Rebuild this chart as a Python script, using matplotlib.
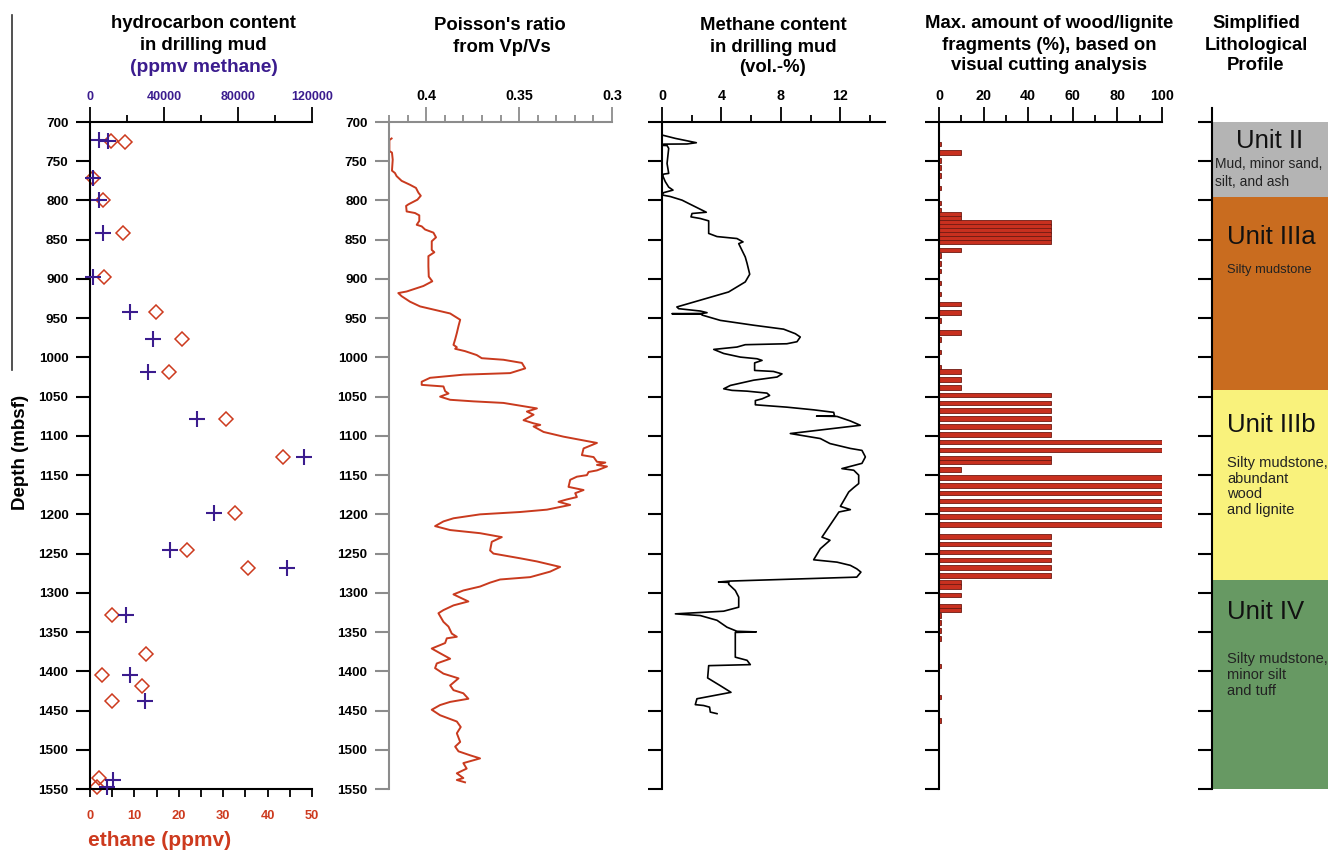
import numpy as np
import matplotlib
matplotlib.use("Agg")
import matplotlib.pyplot as plt
from matplotlib.ticker import MultipleLocator

plt.rcParams['font.family'] = ['Liberation Sans', 'DejaVu Sans']
plt.rcParams['font.weight'] = 'bold'

# ---------------- data ----------------
eth_depth = [724, 726, 772, 799, 841, 898, 942, 976, 1018, 1078, 1127, 1198, 1245, 1268,
             1328, 1378, 1405, 1419, 1438, 1536, 1547]
eth_ppmv = [4.7, 7.9, 0.75, 3.0, 7.4, 3.15, 14.9, 20.8, 17.9, 30.6, 43.5, 32.7, 21.8, 35.5,
            5.0, 12.5, 2.8, 11.8, 4.9, 2.0, 1.5]

meth_depth = [723, 724, 772, 799, 841, 898, 942, 976, 1018, 1078, 1127, 1198, 1245, 1268,
              1328, 1405, 1438, 1538, 1548]
meth_ppmv = [4900, 9700, 1800, 5000, 7200, 1800, 21600, 33900, 31200, 57600, 115700, 67200,
             43200, 106300, 19500, 21600, 29700, 12300, 9400]

pr_depth = [721, 723, 737, 739, 748, 762, 765, 769, 775, 780, 784, 790, 794, 799, 805, 807, 814,
            816, 819, 826, 831, 833, 837, 841, 847, 852, 863, 866, 871, 884, 897, 903, 909, 916,
            918, 922, 929, 935, 939, 944, 952, 960, 969, 977, 984, 987, 989, 992, 997, 1001, 1003,
            1007, 1014, 1020, 1022, 1026, 1031, 1035, 1037, 1043, 1046, 1050, 1054, 1056, 1058,
            1065, 1069, 1073, 1080, 1084, 1086, 1088, 1095, 1101, 1107, 1109, 1116, 1124.5, 1127,
            1133, 1134, 1137, 1139, 1144, 1146, 1150, 1152, 1156, 1165, 1169, 1173, 1178, 1181,
            1184, 1188, 1194, 1197, 1200, 1205, 1209, 1215, 1220, 1224, 1229, 1235, 1246, 1250,
            1256, 1260, 1267, 1273, 1280, 1283, 1287, 1292, 1297, 1302, 1311, 1316, 1322, 1326,
            1337, 1343, 1352, 1356, 1358, 1364, 1371, 1377, 1384, 1390, 1396, 1403, 1409, 1418,
            1424, 1428, 1435, 1439, 1443, 1449, 1456, 1464, 1471, 1479, 1490, 1496, 1502, 1507,
            1511, 1517, 1524, 1530, 1536, 1538.5, 1541.5]
pr_value = [0.4186, 0.4198, 0.4198, 0.4184, 0.4180, 0.4184, 0.4168, 0.4159, 0.4132, 0.4087,
            0.4055, 0.4042, 0.4029, 0.4047, 0.4096, 0.4108, 0.4105, 0.4060, 0.4037, 0.4037,
            0.4051, 0.4024, 0.4006, 0.3961, 0.3947, 0.3970, 0.3970, 0.3956, 0.3988, 0.3988,
            0.3986, 0.3967, 0.4015, 0.4105, 0.4150, 0.4132, 0.4087, 0.4033, 0.3961, 0.3871,
            0.3817, 0.3826, 0.3835, 0.3844, 0.3853, 0.3835, 0.3844, 0.3791, 0.3728, 0.3701,
            0.3584, 0.3485, 0.3467, 0.3548, 0.3800, 0.3979, 0.4024, 0.4024, 0.3907, 0.3898,
            0.3880, 0.3925, 0.3871, 0.3746, 0.3584, 0.3404, 0.3458, 0.3422, 0.3476, 0.3422,
            0.3386, 0.3422, 0.3368, 0.3261, 0.3126, 0.3081, 0.3153, 0.3162, 0.3099, 0.3081,
            0.3036, 0.3081, 0.3027, 0.3081, 0.3126, 0.3135, 0.3189, 0.3225, 0.3234, 0.3153,
            0.3198, 0.3189, 0.3243, 0.3288, 0.3225, 0.3350, 0.3494, 0.3710, 0.3853, 0.3907,
            0.3952, 0.3871, 0.3710, 0.3593, 0.3647, 0.3656, 0.3638, 0.3494, 0.3404, 0.3279,
            0.3333, 0.3440, 0.3602, 0.3656, 0.3710, 0.3800, 0.3853, 0.3773, 0.3853, 0.3907,
            0.3934, 0.3907, 0.3880, 0.3862, 0.3835, 0.3889, 0.3898, 0.3970, 0.3925, 0.3871,
            0.3943, 0.3952, 0.3907, 0.3826, 0.3871, 0.3853, 0.3800, 0.3773, 0.3871, 0.3925,
            0.3970, 0.3925, 0.3835, 0.3814, 0.3835, 0.3817, 0.3844, 0.3826, 0.3764, 0.3710,
            0.3800, 0.3782, 0.3835, 0.3800, 0.3835, 0.3791]

ch4_depth = [716.6, 720.9, 726.4, 728, 728.2, 729.8, 730, 733.6, 752.8, 765.5, 766.4, 768.5, 776,
             783, 786.8, 790, 793, 795, 799.6, 803.8, 815, 816.6, 820.9, 823, 826, 842, 846,
             848.5, 852.8, 855, 872, 880, 894, 903.8, 916.6, 935.7, 937.9, 940.9, 943, 944,
             944.3, 944.8, 946, 952.8, 959, 964, 969.8, 974, 980, 982.6, 983.8, 986.8, 989.8,
             995, 999.6, 1001.7, 1003.8, 1007, 1016.6, 1017.9, 1021, 1025, 1029, 1035.7, 1040,
             1042, 1043, 1045.5, 1048.5, 1052.8, 1055, 1060.4, 1063.4, 1066.8, 1070, 1074.5,
             1074.8, 1075.2, 1081, 1086.5, 1097, 1099.5, 1103.4, 1109.8, 1116, 1118.5, 1126.8,
             1135, 1141.7, 1143.8, 1150, 1160.8, 1166, 1171.5, 1189.8, 1194, 1197, 1229, 1233,
             1243.8, 1257.9, 1260.9, 1265, 1269.4, 1273.6, 1280, 1285, 1286.2, 1286.8, 1289,
             1297, 1305.5, 1318.3, 1323.4, 1326, 1326.8, 1329, 1335, 1343.8, 1349, 1349.8,
             1350.5, 1382, 1386, 1391.5, 1392.8, 1408.5, 1418.3, 1426.8, 1435, 1442.5, 1443.6,
             1445.7, 1452, 1454]
ch4_vol = [0, 0.9, 2.31, 1.68, 0.11, 0, 0.34, 0.45, 0.34, 0.45, 0.11, 0.05, 0.22, 0.45, 0.74,
           0.11, 0, 0.56, 1.35, 1.79, 2.98, 2.02, 1.95, 2.58, 3.14, 3.14, 3.7, 5.04, 5.45, 5.16,
           5.6, 5.72, 5.9, 5.6, 4.48, 1.0, 1.12, 2.58, 3.03, 2.69, 0.67, 2.69, 2.69, 3.92, 6.17,
           8.18, 8.97, 9.3, 9.08, 8.4, 5.6, 5.04, 3.48, 4.15, 5.27, 6.39, 6.73, 6.23, 6.23, 7.5,
           8.07, 7.74, 6.17, 4.6, 4.15, 4.71, 5.72, 7.06, 7.24, 6.73, 6.28, 6.28, 8.4, 10.2,
           11.55, 11.6, 10.4, 11.77, 12.67, 13.34, 8.63, 9.42, 10.65, 11.3, 12.67, 13.45, 13.68,
           13.45, 12.1, 12.9, 13.23, 13.23, 12.89, 12.56, 12.0, 12.67, 11.9, 10.76, 11.3, 10.65,
           10.2, 11.77, 12.67, 13.1, 13.38, 13.1, 4.6, 3.8, 4.5, 4.48, 4.93, 5.16, 5.16, 4.15,
           1.57, 0.9, 2.58, 3.7, 4.37, 5.04, 6.34, 4.93, 4.93, 5.72, 5.94, 3.14, 3.07, 3.92,
           4.64, 2.35, 2.24, 2.8, 3.2, 3.25, 3.7]

wood_depth = [728, 739, 749, 758, 768, 784, 803, 812, 817.5, 822.5, 828, 833, 838, 843, 848, 853,
              863, 870, 880, 890, 905, 919, 932, 943, 953, 968, 977, 993, 1013, 1018, 1028, 1038,
              1048, 1058, 1068, 1078, 1088, 1098, 1108, 1118, 1128, 1133, 1143, 1153, 1163, 1173,
              1183, 1193, 1203, 1213, 1228, 1238, 1248, 1258, 1268, 1278, 1287, 1292, 1303, 1317,
              1322, 1329, 1338, 1348, 1358, 1393, 1433, 1463]
wood_pct = [1, 10, 1, 1, 1, 1, 1, 1, 10, 10, 50, 50, 50, 50, 50, 50,
            10, 1, 1, 1, 1, 1, 10, 10, 1, 10, 1, 1, 1, 10, 10, 10,
            50, 50, 50, 50, 50, 50, 100, 100, 50, 50, 10, 100, 100, 100,
            100, 100, 100, 100, 50, 50, 50, 50, 50, 50, 10, 10, 10, 10,
            10, 1, 1, 1, 1, 1, 1, 1]

unit_names = ["Unit II", "Unit IIIa", "Unit IIIb", "Unit IV"]
unit_top = [700, 795, 1041, 1284]
unit_bottom = [795, 1041, 1284, 1550]
unit_desc = [["Mud, minor sand,", "silt, and ash"],
             ["Silty mudstone"],
             ["Silty mudstone,", "abundant", "wood", "and lignite"],
             ["Silty mudstone,", "minor silt", "and tuff"]]

# ---------------- style ----------------
unit_colors = ["#b4b4b4", "#c96c1f", "#f9f27c", "#679963"]
PURPLE = "#3b1c8e"
RED = "#cd3a1e"
GRAY = "#8c8c8c"

W, H = 1328, 852
fig = plt.figure(figsize=(W / 100, H / 100), dpi=100)


def box(x0, y0, x1, y1):
    return [x0 / W, 1 - y1 / H, (x1 - x0) / W, (y1 - y0) / H]


def ftext(x, y, s, **kw):
    fig.text(x / W, 1 - y / H, s, ha='center', va='center', **kw)


TOP, BOT = 122, 789
DMIN, DMAX = 700, 1550


def depth_axis(ax, labels, color='black'):
    ax.set_ylim(DMAX, DMIN)
    ax.yaxis.set_major_locator(MultipleLocator(50))
    ax.tick_params(axis='y', which='major', direction='out', length=10, width=1.5,
                   color=color, labelsize=9.7, pad=5.5, labelleft=labels, labelcolor='black')
    for s in ['right']:
        ax.spines[s].set_visible(False)
    ax.spines['left'].set_color(color)
    ax.spines['left'].set_linewidth(1.5)


def top_axis(ax, color='black', lc='black', size=10.3):
    ax.xaxis.set_ticks_position('top')
    ax.xaxis.set_label_position('top')
    ax.spines['top'].set_color(color)
    ax.spines['top'].set_linewidth(1.5)
    ax.spines['bottom'].set_visible(False)
    ax.tick_params(axis='x', which='major', direction='out', length=10.5, width=1.3,
                   color=color, labelsize=size, pad=3.5, labelcolor=lc)
    ax.tick_params(axis='x', which='minor', direction='out', length=5, width=1.3, color=color)


# ---- Panel 1: hydrocarbons ----
ax1 = fig.add_axes(box(90, TOP, 312, BOT))
ax1.patch.set_alpha(0)
depth_axis(ax1, True)
ax1.spines['top'].set_visible(False)
ax1.spines['bottom'].set_linewidth(1.5)
ax1.set_xlim(0, 50)
ax1.xaxis.set_major_locator(MultipleLocator(10))
ax1.xaxis.set_minor_locator(MultipleLocator(5))
ax1.tick_params(axis='x', which='both', direction='out', length=6, width=1.3,
                labelsize=9.3, labelcolor=RED, pad=9)
ax1.plot(eth_ppmv, eth_depth, linestyle='none', marker='D', markersize=6.8,
         markerfacecolor='none', markeredgecolor=RED, markeredgewidth=1.1, clip_on=False)

ax1t = ax1.twiny()
ax1t.set_xlim(0, 120000)
for s in ['left', 'right', 'bottom']:
    ax1t.spines[s].set_visible(False)
top_axis(ax1t, lc=PURPLE, size=9)
ax1t.set_xticks([0, 40000, 80000, 120000])
ax1t.set_xticks([20000, 60000, 100000], minor=True)
ax1t.plot(meth_ppmv, meth_depth, linestyle='none', marker='+', markersize=12,
          markeredgecolor=PURPLE, markeredgewidth=1.5, clip_on=False)
ax1t.set_ylim(DMAX, DMIN)

# ---- Panel 2: Poisson's ratio ----
ax2 = fig.add_axes(box(389, TOP, 612, BOT))
depth_axis(ax2, True, color=GRAY)
ax2.set_xlim(0.42, 0.30)
top_axis(ax2, color=GRAY)
ax2.set_xticks([0.4, 0.35, 0.3], labels=['0.4', '0.35', '0.3'])
ax2.set_xticks([0.42, 0.41, 0.39, 0.38, 0.37, 0.36, 0.34, 0.33, 0.32, 0.31], minor=True)
ax2.plot(pr_value, pr_depth, color='#c93a1e', linewidth=1.4)

# ---- Panel 3: methane vol% ----
ax3 = fig.add_axes(box(662, TOP, 885, BOT))
depth_axis(ax3, False)
ax3.set_xlim(0, 15)
top_axis(ax3)
ax3.set_xticks([0, 4, 8, 12])
ax3.set_xticks([2, 6, 10, 14], minor=True)
ax3.plot(ch4_vol, ch4_depth, color='black', linewidth=1.2)

# ---- Panel 4: wood/lignite ----
ax4 = fig.add_axes(box(939, TOP, 1162, BOT))
depth_axis(ax4, False)
ax4.set_xlim(0, 100)
top_axis(ax4)
ax4.set_xticks([0, 20, 40, 60, 80, 100])
ax4.set_xticks([10, 30, 50, 70, 90], minor=True)
ax4.barh(wood_depth, wood_pct, height=5.8, color='#c8301f', edgecolor='#6e1a12', linewidth=0.6)
ax4.set_ylim(DMAX, DMIN)

# ---- Panel 5: lithology ----
ax5 = fig.add_axes(box(1212, TOP, 1328, BOT))
depth_axis(ax5, False)
ax5.spines['top'].set_visible(False)
ax5.spines['bottom'].set_visible(False)
ax5.set_xlim(0, 1)
ax5.set_xticks([])
ax5.bar([0] * len(unit_names), np.array(unit_bottom) - np.array(unit_top), bottom=unit_top,
        width=1.2, align='edge', color=unit_colors, linewidth=0, zorder=0)
ax5.set_ylim(DMAX, DMIN)
ax5.spines['left'].set_bounds(DMAX, 682)

# unit labels (layout offsets in depth units)
title_off = [24, 52, 45, 40]
title_x = [0.5, 0.13, 0.13, 0.13]
title_ha = ['center', 'left', 'left', 'left']
desc_off = [54, 94, 94, 100]
desc_x = [0.026, 0.13, 0.13, 0.13]
desc_step = [23, 0, 19.8, 20.4]
desc_size = [10, 9.3, 10.5, 10.5]
for i, name in enumerate(unit_names):
    ax5.text(title_x[i], unit_top[i] + title_off[i], name, ha=title_ha[i], va='center',
             fontsize=18.5, fontweight='normal', color='#111111', clip_on=True)
    for j, line in enumerate(unit_desc[i]):
        ax5.text(desc_x[i], unit_top[i] + desc_off[i] + j * desc_step[i], line, ha='left',
                 va='center', fontsize=desc_size[i], fontweight='normal', color='#222222',
                 clip_on=True)

# ---- titles ----
TS = 13.3
ftext(203, 24, "hydrocarbon content", fontsize=TS)
ftext(203, 45, "in drilling mud", fontsize=TS)
ftext(204, 68, "(ppmv methane)", fontsize=13.8, color=PURPLE)
ftext(500, 25, "Poisson's ratio", fontsize=TS)
ftext(502, 47, "from Vp/Vs", fontsize=TS)
ftext(773, 25, "Methane content", fontsize=TS)
ftext(773, 47, "in drilling mud", fontsize=TS)
ftext(773, 68, "(vol.-%)", fontsize=TS)
ftext(1049, 24, "Max. amount of wood/lignite", fontsize=TS)
ftext(1049, 45, "fragments (%), based on", fontsize=TS)
ftext(1049, 65, "visual cutting analysis", fontsize=TS)
ftext(1256, 23, "Simplified", fontsize=TS)
ftext(1256, 45, "Lithological", fontsize=TS)
ftext(1256, 66, "Profile", fontsize=TS)

ftext(21, 452, "Depth (mbsf)", fontsize=13.5, rotation=90)
ftext(160, 840, "ethane (ppmv)", fontsize=15, color=RED)

# left frame line
fig.add_artist(plt.Line2D([12 / W, 12 / W], [1 - 15 / H, 1 - 370 / H], color='#333333',
                          linewidth=1.2, transform=fig.transFigure))

fig.savefig("out.png", dpi=100)
